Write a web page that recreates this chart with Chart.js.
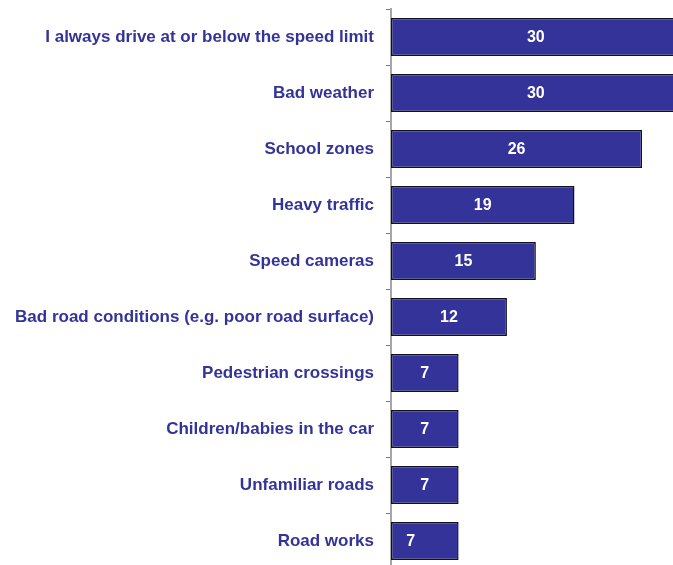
<!DOCTYPE html>
<html>
<head>
<meta charset="utf-8">
<script src="https://cdn.jsdelivr.net/npm/chart.js@4/dist/chart.umd.min.js"></script>
<style>
  html, body { margin: 0; padding: 0; background: #fff; overflow: hidden; }
  #wrap { width: 673px; height: 580px; }
</style>
</head>
<body>
<div id="wrap"><canvas id="barChart" width="673" height="580"></canvas></div>
<script>
const reasons = [
  'I always drive at or below the speed limit',
  'Bad weather',
  'School zones',
  'Heavy traffic',
  'Speed cameras',
  'Bad road conditions (e.g. poor road surface)',
  'Pedestrian crossings',
  'Children/babies in the car',
  'Unfamiliar roads',
  'Road works'
];
const percents = [30, 30, 26, 19, 15, 12, 7, 7, 7, 7];

const barBlue = '#333399';

// writes the value in white on each bar
const valueLabels = {
  id: 'valueLabels',
  afterDatasetsDraw(chart) {
    const ctx = chart.ctx;
    const meta = chart.getDatasetMeta(0);
    ctx.save();
    ctx.font = 'bold 16px "Liberation Sans", Arial, sans-serif';
    ctx.fillStyle = '#ffffff';
    ctx.textAlign = 'center';
    ctx.textBaseline = 'middle';
    meta.data.forEach((bar, i) => {
      let cx = (bar.base + bar.x) / 2;
      if (i === meta.data.length - 1) cx -= 14; // last label sits a bit left
      ctx.fillText(String(percents[i]), cx, bar.y + 1);
    });
    ctx.restore();
  }
};

const ctx = document.getElementById('barChart').getContext('2d');

new Chart(ctx, {
  type: 'bar',
  data: {
    labels: reasons,
    datasets: [{
      data: percents,
      backgroundColor: barBlue,
      borderColor: '#111122',
      borderWidth: 1.5,
      borderSkipped: false,
      barPercentage: 0.68,
      categoryPercentage: 1
    }]
  },
  options: {
    indexAxis: 'y',
    responsive: false,
    animation: false,
    layout: { padding: { top: 9, bottom: 11, right: 0, left: 0 } },
    plugins: {
      legend: { display: false },
      tooltip: { enabled: false }
    },
    scales: {
      x: {
        display: false,
        min: 0,
        max: 29.2
      },
      y: {
        afterFit(scale) {
          scale.width = 391;
          scale.paddingTop = 0;
          scale.paddingBottom = 0;
        },
        grid: {
          drawOnChartArea: false,
          drawTicks: true,
          tickLength: 5,
          tickColor: '#7a7a7a',
          offset: true
        },
        border: { display: true, color: '#a6a6a6', width: 2 },
        ticks: {
          color: barBlue,
          padding: 12,
          font: { family: '"Liberation Sans", Arial, sans-serif', size: 17, weight: 'bold' }
        }
      }
    }
  },
  plugins: [valueLabels]
});
</script>
</body>
</html>
